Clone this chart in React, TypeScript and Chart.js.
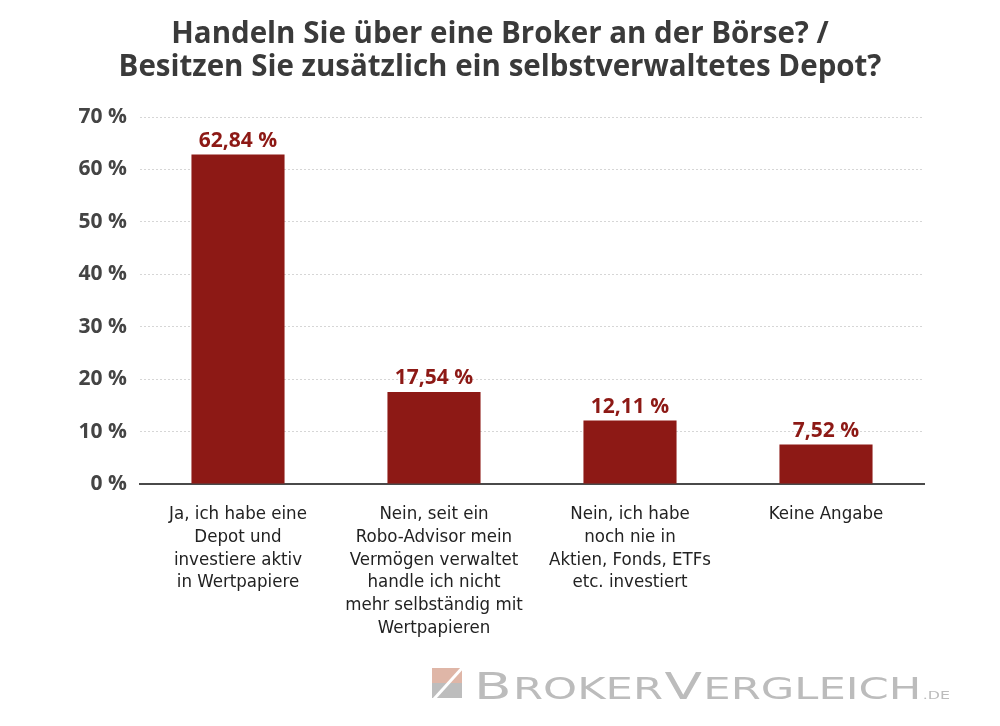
import React, { useEffect, useRef } from 'react';
import { Chart, registerables } from 'chart.js';

Chart.register(...registerables);

const titleLines: string[] = [
  'Handeln Sie über eine Broker an der Börse? /',
  'Besitzen Sie zusätzlich ein selbstverwaltetes Depot?',
];

const categories: string[][] = [
  ['Ja, ich habe eine', 'Depot und', 'investiere aktiv', 'in Wertpapiere'],
  ['Nein, seit ein', 'Robo-Advisor mein', 'Vermögen verwaltet', 'handle ich nicht', 'mehr selbständig mit', 'Wertpapieren'],
  ['Nein, ich habe', 'noch nie in', 'Aktien, Fonds, ETFs', 'etc. investiert'],
  ['Keine Angabe'],
];

const values: number[] = [62.84, 17.54, 12.11, 7.52];

const yMin = 0;
const yMax = 70;
const yStep = 10;

const BAR_COLOR = '#8d1915';
const LABEL_COLOR = '#8d1915';

const valueLabels = {
  id: 'valueLabels',
  afterDatasetsDraw(chart: any) {
    const ctx = chart.ctx;
    const meta = chart.getDatasetMeta(0);
    ctx.save();
    ctx.font = 'bold 21px "Open Sans"';
    ctx.fillStyle = LABEL_COLOR;
    ctx.textAlign = 'center';
    ctx.textBaseline = 'alphabetic';
    meta.data.forEach((bar: any, i: number) => {
      const v = chart.data.datasets[0].data[i] as number;
      ctx.fillText(v.toFixed(2).replace('.', ',') + ' %', bar.x, bar.y - 8);
    });
    ctx.restore();
  },
};

const logo = {
  id: 'logo',
  afterDraw(chart: any) {
    const ctx = chart.ctx;
    ctx.save();
    // icon: top half salmon, bottom half grey, white diagonal slash
    const ix = 432, iy = 668, is = 30;
    ctx.fillStyle = '#dfb6a7';
    ctx.fillRect(ix, iy, is, is / 2);
    ctx.fillStyle = '#bdbdbd';
    ctx.fillRect(ix, iy + is / 2, is, is / 2);
    ctx.strokeStyle = '#ffffff';
    ctx.lineWidth = 3;
    ctx.beginPath();
    ctx.moveTo(ix + is + 1, iy - 1);
    ctx.lineTo(ix + 2, iy + is + 1);
    ctx.stroke();

    // wordmark
    const parts: [string, number][] = [
      ['B', 38], ['ROKER', 30], ['V', 38], ['ERGLEICH', 30], ['.DE', 11],
    ];
    const base = 698.5;
    const startX = 474;
    const targetW = 950 - startX;
    const gap = 1;
    let w = 0;
    parts.forEach(([t, s]) => {
      ctx.font = `${s}px "DejaVu Sans"`;
      w += ctx.measureText(t).width + gap;
    });
    w -= gap;
    const sx = targetW / w;
    ctx.translate(startX, base);
    ctx.scale(sx, 1);
    ctx.fillStyle = '#bcbcbc';
    ctx.textBaseline = 'alphabetic';
    ctx.textAlign = 'left';
    let x = 0;
    parts.forEach(([t, s]) => {
      ctx.font = `${s}px "DejaVu Sans"`;
      ctx.fillText(t, x, 0);
      x += ctx.measureText(t).width + gap;
    });
    ctx.restore();
  },
};

export default function App() {
  const ref = useRef<HTMLCanvasElement | null>(null);

  useEffect(() => {
    document.body.style.margin = '0';
    if (!ref.current) return;
    const chart = new Chart(ref.current, {
      type: 'bar',
      data: {
        labels: categories,
        datasets: [
          {
            data: values,
            backgroundColor: BAR_COLOR,
            barPercentage: 0.475,
            categoryPercentage: 1,
          },
        ],
      },
      options: {
        responsive: false,
        animation: false,
        devicePixelRatio: 1,
        layout: { padding: { left: 0, right: 0, top: 0, bottom: 0 } },
        plugins: {
          legend: { display: false },
          tooltip: { enabled: false },
          title: {
            display: true,
            text: titleLines,
            color: '#3a3a3a',
            font: { family: '"Open Sans"', size: 29.5, weight: 'bold', lineHeight: 1.12 },
            padding: { top: 18.5, bottom: 32.5 },
          },
        },
        scales: {
          x: {
            grid: { display: false, drawTicks: false },
            border: { display: true, color: '#4a4a4a', width: 2 },
            ticks: {
              color: '#222222',
              font: { family: '"DejaVu Sans Condensed", "DejaVu Sans"', size: 18.5, lineHeight: 1.227 },
              padding: 19,
              maxRotation: 0,
              minRotation: 0,
              autoSkip: false,
            },
            afterFit(scale: any) {
              scale.height = 726 - 484;
            },
          },
          y: {
            min: yMin,
            max: yMax,
            grid: { color: '#d6d6d6', lineWidth: 1, drawTicks: false },
            border: { display: false, dash: [2, 2] },
            ticks: {
              stepSize: yStep,
              color: '#444444',
              font: { family: '"Open Sans"', size: 21, weight: 'bold' },
              padding: 13,
              callback: (v: any) => `${v} %`,
            },
            afterFit(scale: any) {
              scale.width = 140;
            },
          },
          yRight: {
            position: 'right',
            display: true,
            grid: { display: false, drawTicks: false },
            border: { display: false },
            ticks: { display: false },
            afterFit(scale: any) {
              scale.width = 76;
            },
          },
        },
      },
      plugins: [valueLabels, logo],
    });
    return () => chart.destroy();
  }, []);

  return (
    <div style={{ position: 'absolute', left: 0, top: 0, width: 1000, height: 726, background: '#ffffff' }}>
      <canvas ref={ref} width={1000} height={726} />
    </div>
  );
}
